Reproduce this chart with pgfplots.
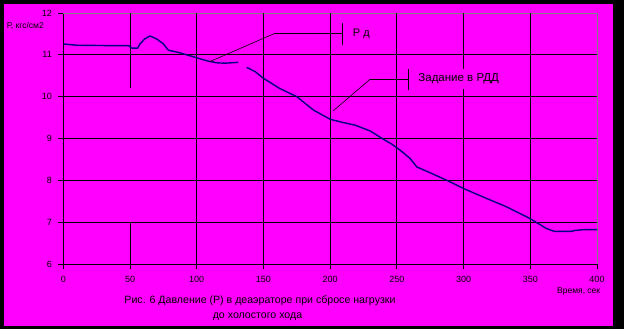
\documentclass[border=0pt]{standalone}
\usepackage{pgfplots}
\pgfplotsset{compat=1.18}
\usepackage{fontspec}
\setmainfont{Liberation Sans}
\definecolor{mag}{RGB}{255,0,255}
\definecolor{navyc}{RGB}{0,0,128}
\pgfplotstableread{
x y
0 11.26
10 11.23
35 11.22
49 11.22
51.5 11.16
55.7 11.16
57.5 11.26
61 11.38
65 11.45
70 11.38
75 11.26
78.8 11.11
86 11.06
93.6 10.99
101 10.92
108.6 10.85
115 10.81
121 10.80
126 10.81
131 10.82
133 nan
137.5 10.70
143.7 10.60
150 10.44
162 10.2
175 10.0
187.5 9.68
200 9.46
210 9.38
218.7 9.32
230 9.18
240 8.98
246 8.87
252.5 8.72
260 8.52
265 8.32
275 8.18
287.5 8.0
301 7.79
317 7.57
332 7.37
349.6 7.09
362 6.85
368 6.78
381 6.78
383 6.80
389.6 6.82
400 6.82
}\pressure
\begin{document}
\begin{tikzpicture}[x=1pt,y=1pt]
\useasboundingbox (0,0) rectangle (624,329);
\fill[black] (0,0) rectangle (624,329);
\fill[mag] (4,3) rectangle (613,325);
\begin{axis}[
  at={(63.3pt,65pt)}, anchor=south west,
  scale only axis, width=533.7pt, height=251pt,
  xmin=0, xmax=400, ymin=6, ymax=12,
  xtick={0,50,...,400}, ytick={6,7,...,12},
  axis lines*=left,
  axis line style={black, line width=0.9pt},
  tick align=outside, major tick length=5pt,
  tick style={black, line width=0.8pt},
  /pgf/number format/assume math mode=true,
  ticklabel style={font=\fontsize{9}{9}\selectfont},
  xticklabel style={yshift=-4pt},
  yticklabel style={xshift=-3pt},
  unbounded coords=jump,
  clip=false,
]
\draw[gray, line width=0.8pt] (axis cs:0,12) -- (axis cs:400,12) -- (axis cs:400,6);
\pgfplotsinvokeforeach{7,8,9,10,11}{\draw[black, line width=0.8pt] (axis cs:0,#1) -- (axis cs:400,#1);}
\pgfplotsinvokeforeach{100,150,200,250,300,350}{\draw[black, line width=0.8pt] (axis cs:#1,6) -- (axis cs:#1,12);}
\draw[black, line width=0.8pt] (axis cs:50,12) -- (axis cs:50,10.2);
\draw[black, line width=0.8pt] (axis cs:50,7) -- (axis cs:50,6);
\addplot[navyc, line width=1.4pt] table[x=x,y=y] {\pressure};
% callouts
\draw[black, line width=0.6pt] (axis cs:110,10.84) -- (axis cs:158.3,11.51) -- (axis cs:209,11.51);
\draw[black, line width=0.8pt] (axis cs:209,11.75) -- (axis cs:209,11.23);
\node[anchor=west, inner sep=0pt, font=\fontsize{11}{11}\selectfont] at (axis cs:216.9,11.51) {Р д};
\draw[black, line width=0.6pt] (axis cs:202.2,9.66) -- (axis cs:229.7,10.41) -- (axis cs:258.5,10.41);
\draw[black, line width=0.8pt] (axis cs:258.5,10.66) -- (axis cs:258.5,10.17);
\node[anchor=west, fill=mag, inner xsep=0pt, minimum height=20pt, font=\fontsize{11.5}{11.5}\selectfont] at (axis cs:266,10.42) {Задание в РДД};
\end{axis}
\node[anchor=west, inner sep=0pt, font=\fontsize{8.5}{8.5}\selectfont] at (6.7,303) {Р, кгс/см2};
\node[anchor=west, inner sep=0pt, font=\fontsize{8.5}{8.5}\selectfont] at (557,38) {Время, сек};
\node[inner sep=0pt, font=\fontsize{10.6}{10.6}\selectfont] at (260,28.3) {Рис. 6 Давление (Р) в деаэраторе при сбросе нагрузки};
\node[inner sep=0pt, font=\fontsize{10.6}{10.6}\selectfont] at (257.5,12) {до холостого хода};
\end{tikzpicture}
\end{document}
